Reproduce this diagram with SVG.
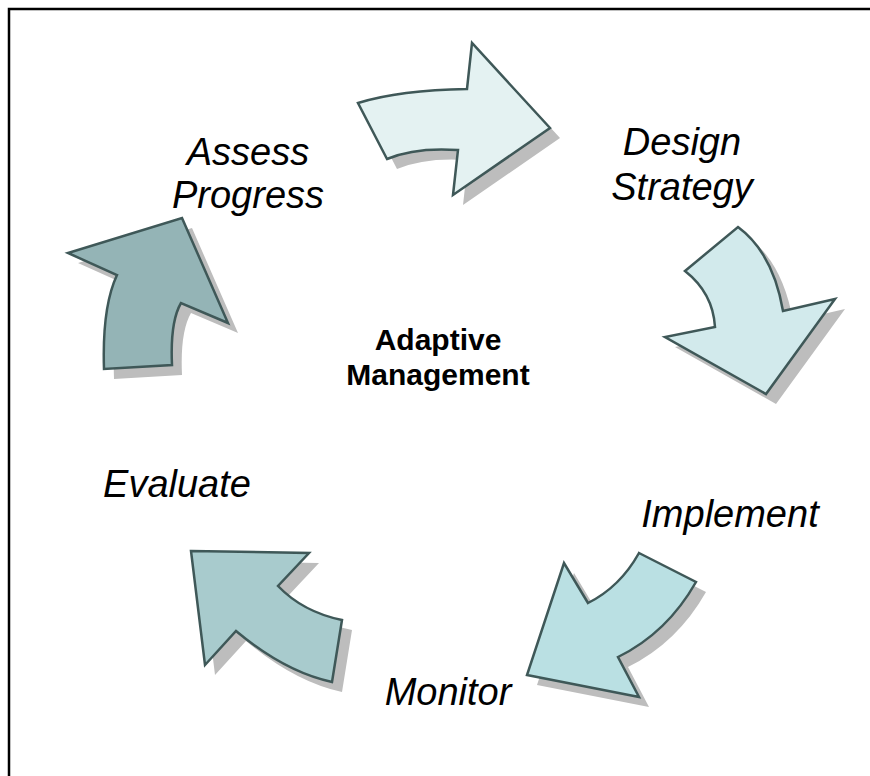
<svg xmlns="http://www.w3.org/2000/svg" width="870" height="776" viewBox="0 0 870 776">
  <style>
    .arrow { stroke: #3f5858; stroke-width: 2.5; stroke-linejoin: miter; }
    .shadow { fill: #bdbdbd; }
    .label { font-family: "Liberation Sans", Arial, sans-serif; font-style: italic; font-size: 38px; fill: #000; text-anchor: middle; }
    .title { font-family: "Liberation Sans", Arial, sans-serif; font-weight: bold; font-size: 30px; fill: #000; text-anchor: middle; }
  </style>
  <defs>
    <path id="p-design" d="M358,103 Q400,90 467,89 L472,43 L550,128 L453,195 L458,150 Q415,147 387,159 Z"/>
    <path id="p-implement" d="M685,271 L738,227 Q773,253 783,311 L835,299 L766,394 L665,337 L715,327 Q713,293 685,271 Z"/>
    <path id="p-monitor" d="M639,553 L696,582 Q667,633 618,657 L639,697 L527,675 L564,563 L588,603 Q620,587 639,553 Z"/>
    <path id="p-evaluate" d="M191,551 L309,553 L278,586 Q303,612 342,620 L332,682 Q285,672 236,631 L205,665 Z"/>
    <path id="p-assess" d="M182,218 L228,323 L181,303 Q170,322 172,365 L104,369 Q102,307 117,275 L68,253 Z"/>
  </defs>

  <rect width="870" height="776" fill="#fff"/>
  <!-- frame; right and bottom sides run off the canvas -->
  <rect x="9" y="9" width="900" height="900" fill="none" stroke="#000" stroke-width="2.5"/>

  <g id="connectors">
    <g id="arrow-design">
      <use href="#p-design" class="shadow" transform="translate(10,10)"/>
      <use href="#p-design" class="arrow" fill="#e4f2f2"/>
    </g>
    <g id="arrow-implement">
      <use href="#p-implement" class="shadow" transform="translate(10,10)"/>
      <use href="#p-implement" class="arrow" fill="#d2eaec"/>
    </g>
    <g id="arrow-monitor">
      <use href="#p-monitor" class="shadow" transform="translate(10,10)"/>
      <use href="#p-monitor" class="arrow" fill="#bae0e3"/>
    </g>
    <g id="arrow-evaluate">
      <use href="#p-evaluate" class="shadow" transform="translate(10,10)"/>
      <use href="#p-evaluate" class="arrow" fill="#a8cbcd"/>
    </g>
    <g id="arrow-assess">
      <use href="#p-assess" class="shadow" transform="translate(10,10)"/>
      <use href="#p-assess" class="arrow" fill="#94b4b6"/>
    </g>
  </g>

  <g id="node-center">
    <text class="title" x="438" y="350">Adaptive</text>
    <text class="title" x="438" y="385">Management</text>
  </g>
  <g id="node-assess">
    <text class="label" x="248" y="165">Assess</text>
    <text class="label" x="248" y="208">Progress</text>
  </g>
  <g id="node-design">
    <text class="label" x="682" y="155">Design</text>
    <text class="label" x="682" y="200">Strategy</text>
  </g>
  <g id="node-implement">
    <text class="label" x="730" y="527">Implement</text>
  </g>
  <g id="node-monitor">
    <text class="label" x="448" y="705">Monitor</text>
  </g>
  <g id="node-evaluate">
    <text class="label" x="177" y="497">Evaluate</text>
  </g>
</svg>
